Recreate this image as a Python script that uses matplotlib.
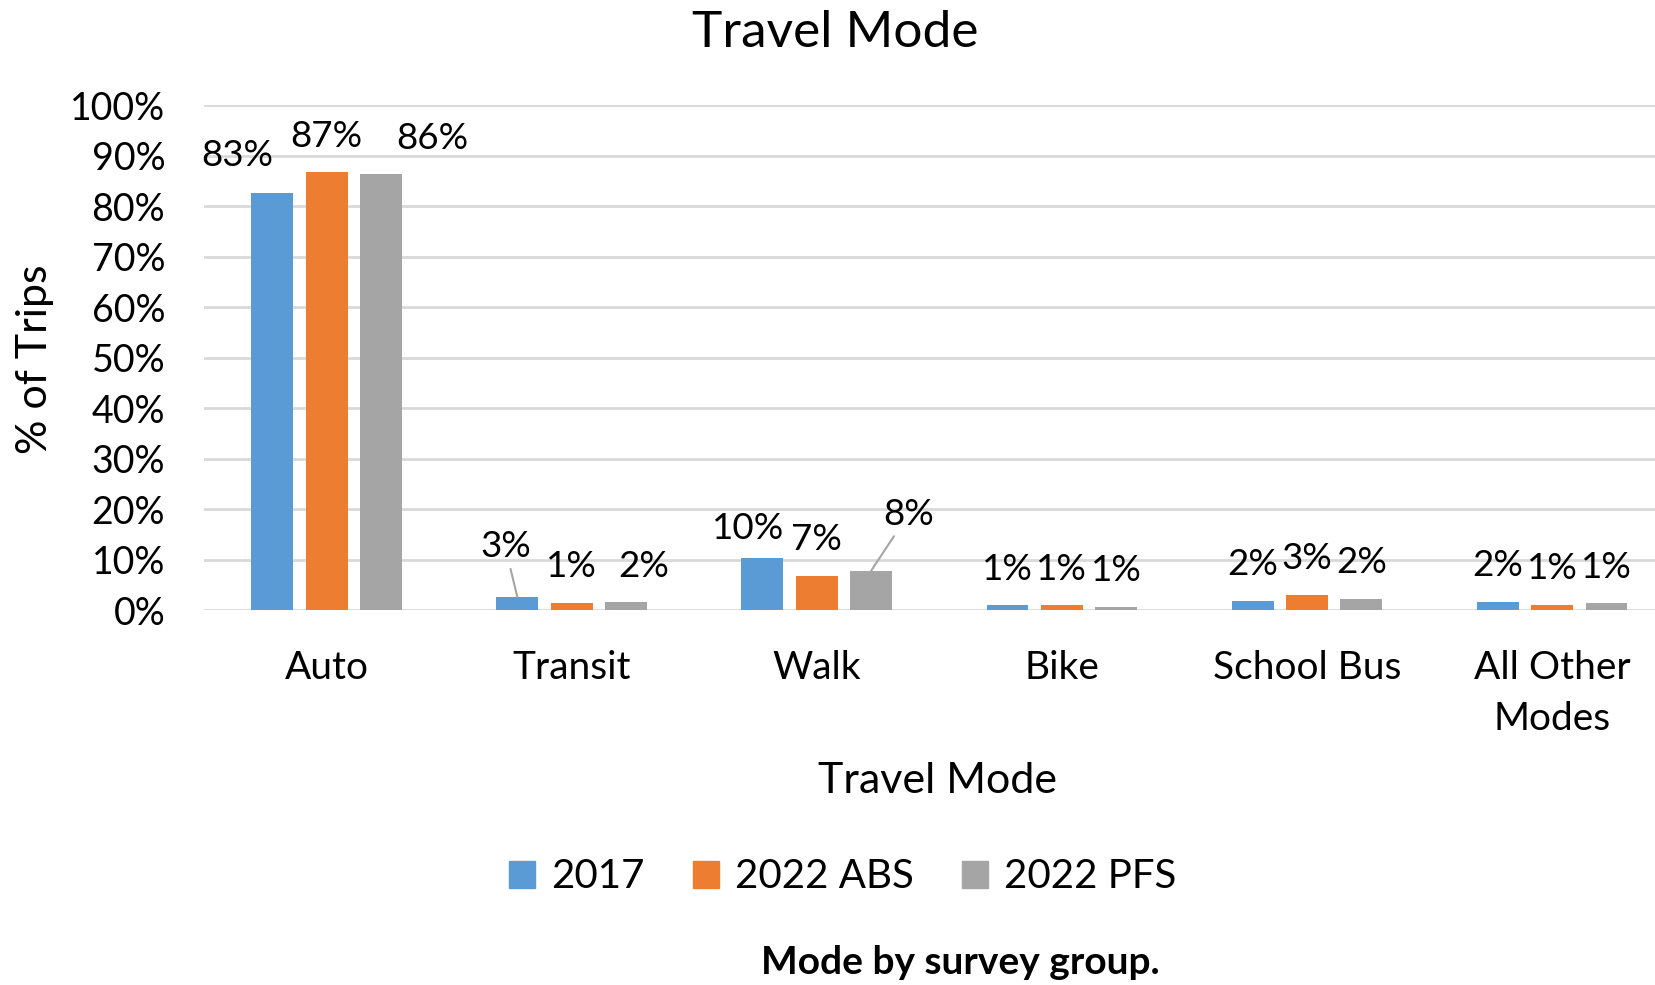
import matplotlib.pyplot as plt
from matplotlib.patches import Patch
from matplotlib.ticker import FuncFormatter

plt.rcParams['font.family'] = ['Lato', 'DejaVu Sans']

# Data (% of trips)
modes = ["Auto", "Transit", "Walk", "Bike", "School Bus", "All Other\nModes"]
groups = ["2017", "2022 ABS", "2022 PFS"]
v2017 = [82.6, 2.6, 10.4, 0.9, 1.8, 1.6]
v2022_abs = [86.8, 1.4, 6.8, 0.9, 3.0, 1.0]
v2022_pfs = [86.4, 1.6, 7.8, 0.6, 2.2, 1.3]
series = [v2017, v2022_abs, v2022_pfs]
colors = ["#5B9BD5", "#ED7D31", "#A5A5A5"]

# label nudges (pixels) where Excel moved a label, (group, mode) -> (dx, dy, leader)
label_moves = {
    (0, 0): (-35, 38, False),
    (2, 0): (51, 36, False),
    (0, 1): (-12, 50, True),
    (2, 1): (18, 35, False),
    (0, 2): (-14, 29, False),
    (2, 2): (37, 56, True),
}

fig = plt.figure(figsize=(16.55, 9.85), dpi=100)
ax = fig.add_axes([0.1233, 0.3807, 0.8767, 0.5122])

width = 0.171
step = 0.222
for g, vals in enumerate(series):
    xs = [i + (g - 1) * step for i in range(len(modes))]
    ax.bar(xs, vals, width=width, color=colors[g], zorder=3, label=groups[g])
    for m, (x, v) in enumerate(zip(xs, vals)):
        dx, dy, leader = label_moves.get((g, m), (0, 36, False))
        props = dict(arrowstyle='-', color='#A5A5A5', lw=1.5, shrinkA=2, shrinkB=0) if leader else None
        ax.annotate(f"{v:.0f}%", xy=(x, v), xytext=(dx, dy), textcoords='offset pixels',
                    ha='center', va='center', fontsize=26.5, color='black',
                    arrowprops=props, zorder=4)

ax.set_xlim(-0.5, 5.42)
ax.set_ylim(0, 100)
ax.set_yticks(range(0, 101, 10))
ax.yaxis.set_major_formatter(FuncFormatter(lambda y, _: f"{y:.0f}%"))
ax.set_xticks(range(len(modes)))
ax.set_xticklabels(modes, linespacing=1.5)
ax.tick_params(axis='y', length=0, labelsize=27, pad=28)
ax.tick_params(axis='x', length=0, labelsize=28, pad=29)
ax.grid(axis='y', color='#D9D9D9', linewidth=2, zorder=0)
for s in ax.spines.values():
    s.set_visible(False)

fig.text(835 / 1655, 1 - 33 / 985, "Travel Mode", ha='center', va='center', fontsize=37)
fig.text(35 / 1655, 1 - 359 / 985, "% of Trips", rotation=90, ha='center', va='center', fontsize=31)
fig.text(937 / 1655, 1 - 781 / 985, "Travel Mode", ha='center', va='center', fontsize=31)
fig.text(960 / 1655, 1 - 963 / 985, "Mode by survey group.", ha='center', va='center',
         fontsize=28, fontweight='bold')

handles = [Patch(color=c, label=l) for c, l in zip(colors, groups)]
fig.legend(handles=handles, loc='center', bbox_to_anchor=(843 / 1655, 1 - 877 / 985), ncol=3,
           frameon=False, fontsize=29, handlelength=0.64, handleheight=0.64,
           handletextpad=0.4, columnspacing=1.2)

fig.savefig("out.png", dpi=100)
